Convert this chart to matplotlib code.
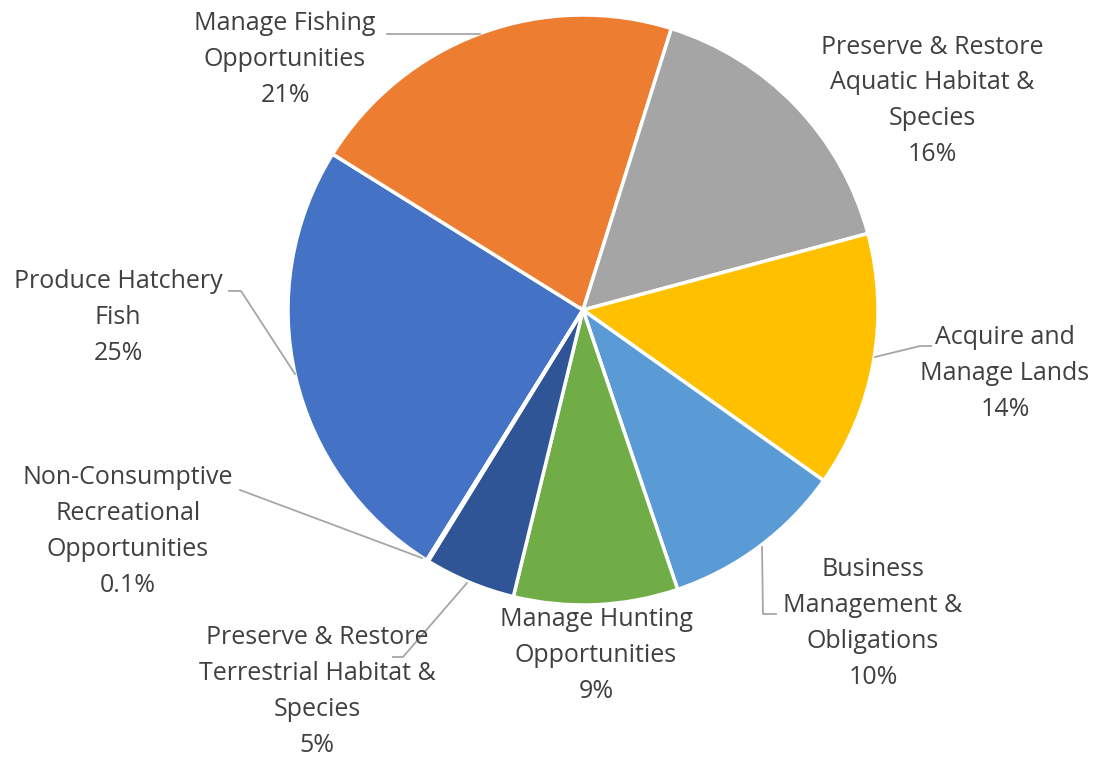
import matplotlib
matplotlib.use("Agg")
import matplotlib.pyplot as plt

# data, in the order the slices run clockwise
categories = ["Produce Hatchery\nFish", "Manage Fishing\nOpportunities",
              "Preserve & Restore\nAquatic Habitat &\nSpecies", "Acquire and\nManage Lands",
              "Business\nManagement &\nObligations", "Manage Hunting\nOpportunities",
              "Preserve & Restore\nTerrestrial Habitat &\nSpecies",
              "Non-Consumptive\nRecreational\nOpportunities"]
shares = [25, 21, 16, 14, 10, 9, 5, 0.1]
pct_labels = ["25%", "21%", "16%", "14%", "10%", "9%", "5%", "0.1%"]
colors = ["#4472C4", "#ED7D31", "#A5A5A5", "#FFC000", "#5B9BD5", "#70AD47", "#2F5597", "#9E480E"]

H = 757
def Y(y):
    return H - y

fig = plt.figure(figsize=(10.98, 7.57), dpi=100)
ax = fig.add_axes([0, 0, 1, 1])

ax.pie(shares, colors=colors, startangle=-122, counterclock=False,
       center=(583, Y(310)), radius=295, frame=True,
       wedgeprops=dict(edgecolor="white", linewidth=2.5))
ax.set_xlim(0, 1098)
ax.set_ylim(0, H)
ax.set_aspect("equal")
ax.axis("off")

# label block centres (x, y of first line) in pixel coords
label_pos = [(118, 282), (285, 24), (932, 47), (1005, 338),
             (873, 570), (596, 620), (317, 638), (128, 478)]
step = 35.8
for name, pct, (x, y0) in zip(categories, pct_labels, label_pos):
    lines = name.split("\n") + [pct]
    for i, ln in enumerate(lines):
        ax.text(x, Y(y0 + i * step), ln, ha="center", va="center",
                fontsize=18, color="#404040", family="Open Sans")

# leader lines
leaders = [
    [(229, 291), (241, 291), (295, 374)],
    [(387, 34), (480, 34)],
    [(875, 357), (920, 346), (931, 346)],
    [(762, 547), (763, 614), (776, 614)],
    [(467, 583), (403, 657), (393, 657)],
    [(240, 490), (422, 558)],
]
for pts in leaders:
    ax.plot([p[0] for p in pts], [Y(p[1]) for p in pts], color="#A6A6A6", lw=1.3)

fig.savefig("out.png", dpi=100)
